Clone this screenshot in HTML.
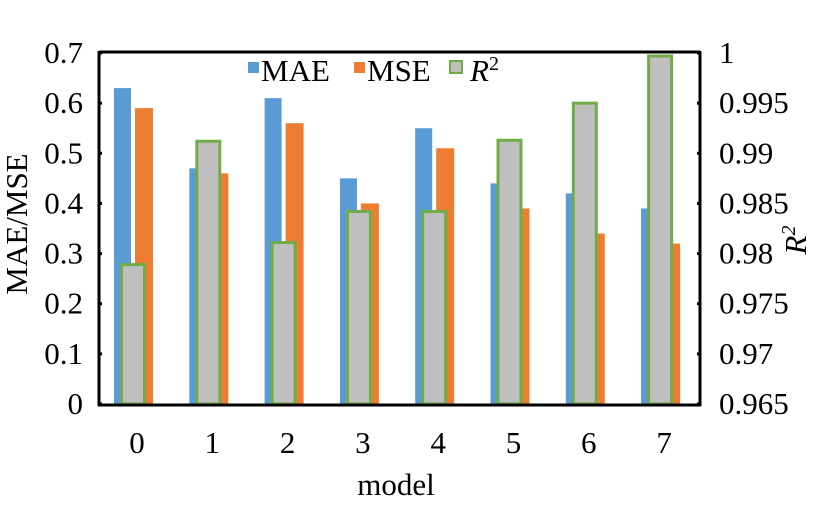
<!DOCTYPE html>
<html><head><meta charset="utf-8"><style>
body{margin:0;background:#fff;}
svg text{font-family:"Liberation Serif",serif;}
</style></head><body>
<svg id="c" width="836" height="500" xmlns="http://www.w3.org/2000/svg"></svg>
<script>
const categories=["0","1","2","3","4","5","6","7"];
const maeValues=[0.63,0.47,0.61,0.45,0.55,0.44,0.42,0.39];
const mseValues=[0.59,0.46,0.56,0.40,0.51,0.39,0.34,0.32];
const r2Values=[0.9789,0.9912,0.9811,0.9842,0.9842,0.9913,0.9950,0.9997];
const leftTicks=[0,0.1,0.2,0.3,0.4,0.5,0.6,0.7];
const rightTicks=["0.965","0.97","0.975","0.98","0.985","0.99","0.995","1"];
const NS="http://www.w3.org/2000/svg";
const svg=document.getElementById('c');
const X0=99,X1=700,Y0=404,Y1=53;
const band=75.3, start=138;
const yL=v=>Y0-(v-0)/0.7*(Y0-Y1);
const yR=v=>Y0-(v-0.965)/0.035*(Y0-Y1);
const xC=i=>start+i*band;
function el(t,a,txt){const e=document.createElementNS(NS,t);for(const k in a)e.setAttribute(k,a[k]);if(txt!==undefined)e.textContent=txt;svg.appendChild(e);return e;}
categories.forEach((c,i)=>{
  const cx=xC(i);
  let r=el('rect',{x:cx-24,y:yL(maeValues[i]),width:17,height:Y0-yL(maeValues[i]),fill:'#5b9bd5'});
  
  
  r=el('rect',{x:cx-3,y:yL(mseValues[i]),width:18,height:Y0-yL(mseValues[i]),fill:'#ed7d31'});
  
  
  r=el('rect',{x:cx-16.5,y:yR(r2Values[i]),width:23,height:Y0-yR(r2Values[i]),fill:'#bfbfbf',stroke:'#70ad47','stroke-width':3});
  
  
  const t=el('text',{x:cx-1,y:453,'font-size':31,'text-anchor':'middle'},c);
  
  
});
el('line',{x1:X0,y1:Y1-1,x2:X1,y2:Y1-1,stroke:'#000','stroke-width':3});
el('line',{x1:X0-1,y1:Y0+1,x2:X1+1,y2:Y0+1,stroke:'#000','stroke-width':3});
el('line',{x1:X0,y1:Y1-2,x2:X0,y2:Y0+2,stroke:'#000','stroke-width':3});
el('line',{x1:X1,y1:Y1-2,x2:X1,y2:Y0+2,stroke:'#000','stroke-width':3});
leftTicks.forEach(v=>{
  const y=yL(v);
  el('line',{x1:X0,y1:y,x2:X0+3,y2:y,stroke:'#000','stroke-width':3});
  const t=el('text',{x:83,y:y+10,'font-size':31,'text-anchor':'end'},String(v));
  
  
});
rightTicks.forEach(s=>{
  const y=yR(parseFloat(s));
  el('line',{x1:X1-3,y1:y,x2:X1,y2:y,stroke:'#000','stroke-width':3});
  const t=el('text',{x:719,y:y+10,'font-size':31},s);
  
  
});
</script>
<svg width="836" height="500" style="position:absolute;left:0;top:0" xmlns="http://www.w3.org/2000/svg">
<text x="27" y="224" font-size="31" text-anchor="middle" transform="rotate(-90 27 224)" style="font-family:'Liberation Serif',serif">MAE/MSE</text>
<text x="806" y="240" font-size="31" font-style="italic" text-anchor="middle" transform="rotate(-90 806 240)" style="font-family:'Liberation Serif',serif">R<tspan font-size="20" dy="-11">2</tspan></text>
<text x="396" y="495" font-size="31" text-anchor="middle" style="font-family:'Liberation Serif',serif">model</text>
<g>
<rect x="248" y="62" width="11" height="11" fill="#5b9bd5"/>
<text x="261" y="81" font-size="31" style="font-family:'Liberation Serif',serif">MAE</text>
<rect x="354" y="62" width="11" height="11" fill="#ed7d31"/>
<text x="367" y="81" font-size="31" style="font-family:'Liberation Serif',serif">MSE</text>
<rect x="450" y="61" width="12" height="12" fill="#bfbfbf" stroke="#70ad47" stroke-width="2"/>
<text x="470" y="81" font-size="31" font-style="italic" style="font-family:'Liberation Serif',serif">R<tspan font-size="20" dy="-11" font-style="normal">2</tspan></text>
</g>
</svg>
</body></html>
